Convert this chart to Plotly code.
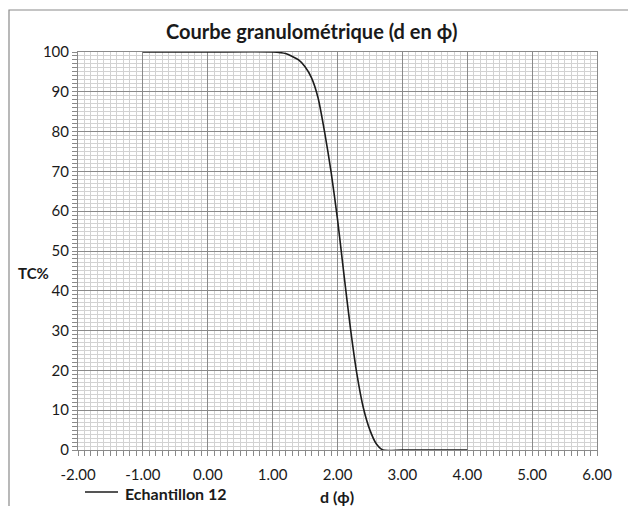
import plotly.graph_objects as go

# Data
phi = [-1.0, 0.0, 1.0, 1.2, 1.4, 1.5, 1.6, 1.7, 1.8, 1.9, 2.0, 2.1, 2.2, 2.3, 2.4, 2.5, 2.6, 2.7, 3.0, 4.0]
tc_percent = [100, 100, 100, 99.6, 98.0, 96.3, 93.5, 88.5, 80.0, 70.0, 58.0, 44.0, 30.5, 19.0, 10.5, 5.0, 1.5, 0.0, 0.0, 0.0]
series_name = "Echantillon 12"
title_text = "Courbe granulométrique (d en ϕ)"
x_title = "d (ϕ)"
y_title = "TC%"
x_tickvals = [-2, -1, 0, 1, 2, 3, 4, 5, 6]
x_ticktext = ["-2.00", "-1.00", "0.00", "1.00", "2.00", "3.00", "4.00", "5.00", "6.00"]

FONT = "Lato, 'Open Sans', sans-serif"
TXT = "#1a1a1a"
MAJOR = "#8a8a8a"
MINOR = "#d2d2d2"
LINE = "#1c1c1c"

# page body has an 8px margin: figure coordinates = screen coordinates - 8
W, H = 628, 498
L, R, T, B = 70, 39, 44, 56
PW, PH = W - L - R, H - T - B


def px(xf):
    return (xf - L) / PW


def py(yf):
    return (H - B - yf) / PH


fig = go.Figure()
fig.add_trace(go.Scatter(
    x=phi, y=tc_percent, mode="lines", name=series_name,
    line=dict(color=LINE, width=1.6, shape="spline", smoothing=0.6),
    showlegend=False,
))

axis_common = dict(
    showgrid=True, gridcolor=MAJOR, gridwidth=1,
    showline=True, linecolor=MAJOR, linewidth=1, mirror=True,
    ticks="outside", ticklen=5, tickcolor=MAJOR,
    zeroline=False, fixedrange=True,
    tickfont=dict(family=FONT, size=15, color=TXT),
)

fig.update_layout(
    width=W, height=H,
    margin=dict(l=L, r=R, t=T, b=B, autoexpand=False),
    paper_bgcolor="white", plot_bgcolor="white",
    font=dict(family=FONT, size=15, color=TXT),
    showlegend=False,
    xaxis=dict(
        range=[-2, 6], tickmode="array", tickvals=x_tickvals, ticktext=x_ticktext,
        ticklabelstandoff=6,
        minor=dict(dtick=0.1, tick0=-2, showgrid=True, gridcolor=MINOR, gridwidth=1,
                   ticks="outside", ticklen=5, tickcolor=MAJOR),
        **axis_common,
    ),
    yaxis=dict(
        range=[0, 100], dtick=10, tick0=0,
        minor=dict(dtick=1, showgrid=True, gridcolor=MINOR, gridwidth=1,
                   ticks="outside", ticklen=5, tickcolor=MAJOR),
        **axis_common,
    ),
    annotations=[
        dict(text=title_text, xref="paper", yref="paper", x=px(312 - 8), y=1.0,
             yshift=21, xanchor="center", yanchor="middle", showarrow=False,
             font=dict(family=FONT, size=20, color=TXT, weight="bold")),
        dict(text=x_title, xref="paper", yref="paper", x=px(337 - 8), y=py(497 - 8),
             xanchor="center", yanchor="middle", showarrow=False,
             font=dict(family=FONT, size=16, color=TXT, weight="bold")),
        dict(text=y_title, xref="paper", yref="paper", x=0.0, y=0.445,
             xshift=-45, xanchor="center", yanchor="middle", showarrow=False,
             font=dict(family=FONT, size=15, color=TXT, weight="bold")),
        dict(text=series_name, xref="paper", yref="paper", x=px(123 - 8), y=py(493 - 8),
             xanchor="left", yanchor="middle", showarrow=False,
             font=dict(family=FONT, size=16, color=TXT, weight="bold")),
    ],
    shapes=[
        dict(type="rect", xref="paper", yref="paper",
             x0=px(1), x1=px(623), y0=py(H + 20), y1=py(2),
             line=dict(color="#8a8a8a", width=1.2), layer="below"),
        dict(type="line", xref="paper", yref="paper",
             x0=px(85 - 8), x1=px(118 - 8), y0=py(492 - 8), y1=py(492 - 8),
             line=dict(color=LINE, width=1.6)),
    ],
)

fig.write_html("out.html")
